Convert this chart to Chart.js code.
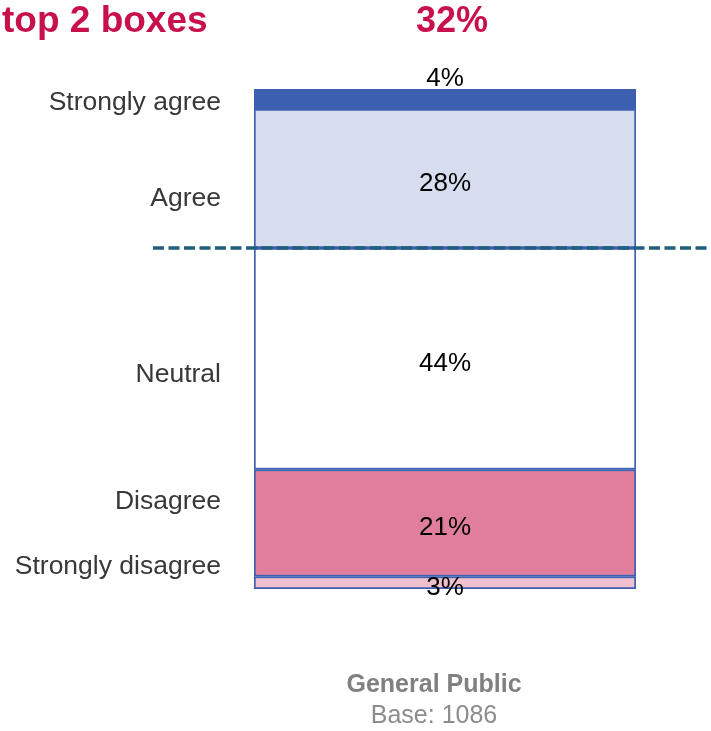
<!DOCTYPE html>
<html>
<head>
<meta charset="utf-8">
<script src="https://cdn.jsdelivr.net/npm/chart.js@4.4.1/dist/chart.umd.min.js"></script>
<style>
  html, body { margin: 0; padding: 0; background: #fff; }
  #wrap { width: 711px; height: 731px; }
</style>
</head>
<body>
<div id="wrap"><canvas id="chart" width="711" height="731"></canvas></div>
<script>
// data, bottom of the stack first
const categories = ['Strongly disagree', 'Disagree', 'Neutral', 'Agree', 'Strongly agree'];
const values = [2.5, 21.4, 44.3, 27.8, 4.0];
const colors = ['#f1c0ce', '#e07e9c', '#ffffff', '#d5ddef', '#3c5fb0'];
const groupLabel = 'General Public';
const baseN = 1086;
const top2 = values[3] + values[4];

// where the left-hand names sit (in % units on the bar scale)
const namePos = [4.4, 17.4, 42.8, 78.0, 97.2];
const FONT = "'Liberation Sans', Arial, sans-serif";

const overlay = {
  id: 'overlay',
  afterDatasetsDraw(chart) {
    const { ctx, chartArea, scales } = chart;
    const y = scales.y;
    const cx = (chartArea.left + chartArea.right) / 2;
    ctx.save();

    // dashed top-2 line
    const yl = y.getPixelForValue(100 - top2);
    ctx.strokeStyle = '#1f5f7d';
    ctx.lineWidth = 3.5;
    ctx.setLineDash([11, 4.5]);
    ctx.beginPath();
    ctx.moveTo(153, yl);
    ctx.lineTo(chart.width, yl);
    ctx.stroke();
    ctx.setLineDash([]);

    // value labels
    ctx.font = '26px ' + FONT;
    ctx.fillStyle = '#000';
    ctx.textAlign = 'center';
    chart.data.datasets.forEach((ds, i) => {
      const bar = chart.getDatasetMeta(i).data[0];
      const txt = Math.round(ds.data[0]) + '%';
      if (i === chart.data.datasets.length - 1) {
        ctx.textBaseline = 'alphabetic';
        ctx.fillText(txt, cx, bar.y - 3);
      } else {
        ctx.textBaseline = 'middle';
        ctx.fillText(txt, cx, (bar.y + bar.base) / 2 + 5);
      }
    });

    // category names on the left
    ctx.fillStyle = '#383838';
    ctx.font = '26.5px ' + FONT;
    ctx.textAlign = 'right';
    ctx.textBaseline = 'middle';
    categories.forEach((c, i) => {
      ctx.fillText(c, 221, y.getPixelForValue(namePos[i]));
    });

    // headline
    ctx.fillStyle = '#c8104a';
    ctx.font = 'bold 37px ' + FONT;
    ctx.textAlign = 'left';
    ctx.textBaseline = 'alphabetic';
    ctx.fillText('top 2 boxes', 2, 32);
    ctx.textAlign = 'center';
    ctx.font = 'bold 36px ' + FONT;
    ctx.fillText(Math.round(top2) + '%', cx + 7, 32);

    // group + base
    ctx.fillStyle = '#808080';
    ctx.font = 'bold 25px ' + FONT;
    ctx.textBaseline = 'middle';
    ctx.fillText(groupLabel, cx - 11, 685);
    ctx.fillStyle = '#8c8c8c';
    ctx.font = '25px ' + FONT;
    ctx.fillText('Base: ' + baseN, cx - 11, 716);
    ctx.restore();
  }
};

new Chart(document.getElementById('chart'), {
  type: 'bar',
  data: {
    labels: [groupLabel],
    datasets: categories.map((c, i) => ({
      label: c,
      data: [values[i]],
      backgroundColor: colors[i],
      borderColor: '#3c5fb0',
      borderWidth: 2,
      borderSkipped: false,
      barPercentage: 1,
      categoryPercentage: 1,
    })),
  },
  options: {
    responsive: false,
    animation: false,
    layout: { padding: { left: 254, right: 75, top: 89, bottom: 142 } },
    scales: {
      x: { stacked: true, display: false },
      y: { stacked: true, display: false, min: 0, max: 100 },
    },
    plugins: {
      legend: { display: false },
      tooltip: { enabled: false },
    },
  },
  plugins: [overlay],
});
</script>
</body>
</html>
